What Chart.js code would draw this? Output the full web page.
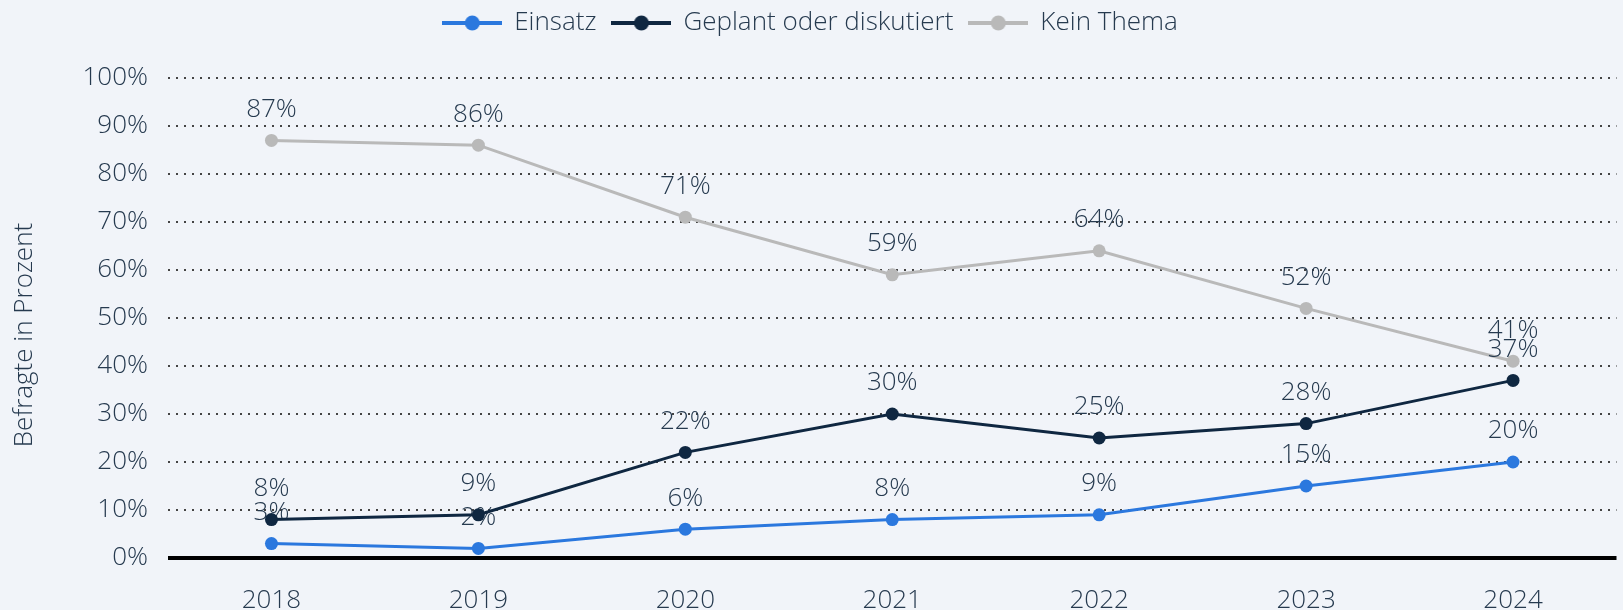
<!DOCTYPE html>
<html>
<head>
<meta charset="utf-8">
<script src="https://cdn.jsdelivr.net/npm/chart.js@4/dist/chart.umd.min.js"></script>
<style>
  html, body { margin: 0; padding: 0; background: #f1f4f9; }
  #wrap { width: 1623px; height: 610px; }
</style>
</head>
<body>
<div id="wrap"><canvas id="chart"></canvas></div>
<script>
// data
const years = ['2018', '2019', '2020', '2021', '2022', '2023', '2024'];
const einsatz = [3, 2, 6, 8, 9, 15, 20];
const geplant = [8, 9, 22, 30, 25, 28, 37];
const keinThema = [87, 86, 71, 59, 64, 52, 41];
const yTicks = [0, 10, 20, 30, 40, 50, 60, 70, 80, 90, 100];
const yTitle = 'Befragte in Prozent';

const textColor = '#263a4f';
const fontFamily = '"Open Sans", sans-serif';

// legend icon: short line with a dot in the middle
function legendIcon(color) {
    let c = document.createElement('canvas');
    c.width = 60; c.height = 16;
    let ctx = c.getContext('2d');
    ctx.strokeStyle = color;
    ctx.lineWidth = 4;
    ctx.beginPath(); ctx.moveTo(0, 8); ctx.lineTo(60, 8); ctx.stroke();
    ctx.fillStyle = color;
    ctx.beginPath(); ctx.arc(30, 8, 7.5, 0, Math.PI * 2); ctx.fill();
    return c;
}

// value labels above each point, drawn right after its dataset
const pointLabels = {
    id: 'pointLabels',
    afterDatasetDraw(chart, args) {
        let ctx = chart.ctx;
        ctx.save();
        ctx.font = '300 26px ' + fontFamily;
        ctx.fillStyle = textColor;
        ctx.textAlign = 'center';
        ctx.textBaseline = 'middle';
        args.meta.data.forEach(function(pt, i) {
            let v = chart.data.datasets[args.index].data[i];
            ctx.fillText(v + '%', pt.x, pt.y - 31);
        });
        ctx.restore();
    }
};

// thick black zero line
const zeroLine = {
    id: 'zeroLine',
    beforeDatasetsDraw(chart) {
        let y = chart.scales.y.getPixelForValue(0);
        let area = chart.chartArea;
        let ctx = chart.ctx;
        ctx.save();
        ctx.strokeStyle = '#000';
        ctx.lineWidth = 4;
        ctx.beginPath();
        ctx.moveTo(area.left, y);
        ctx.lineTo(area.right, y);
        ctx.stroke();
        ctx.restore();
    }
};

// y axis title, sitting a little lower than the plot middle
const axisTitle = {
    id: 'axisTitle',
    afterDraw(chart) {
        let area = chart.chartArea;
        let ctx = chart.ctx;
        ctx.save();
        ctx.translate(25, (area.top + area.bottom) / 2 + 17);
        ctx.rotate(-Math.PI / 2);
        ctx.font = '300 26px ' + fontFamily;
        ctx.fillStyle = textColor;
        ctx.textAlign = 'center';
        ctx.textBaseline = 'middle';
        ctx.fillText(yTitle, 0, 0);
        ctx.restore();
    }
};

// extra room under the legend
const legendRoom = {
    id: 'legendRoom',
    beforeInit(chart) {
        const fit = chart.legend.fit;
        chart.legend.fit = function() {
            fit.bind(chart.legend)();
            this.height += 32;
        };
    }
};

function series(label, data, color, order) {
    return {
        label: label,
        data: data,
        order: order,
        borderColor: color,
        backgroundColor: color,
        borderWidth: 3,
        pointStyle: 'circle',
        pointRadius: 6.5,
        pointHoverRadius: 6.5,
        pointBorderWidth: 0,
        tension: 0
    };
}

new Chart(document.getElementById('chart'), {
    type: 'line',
    data: {
        labels: years,
        datasets: [
            series('Einsatz', einsatz, '#2b78de', 1),
            series('Geplant oder diskutiert', geplant, '#0f2741', 0),
            series('Kein Thema', keinThema, '#b9b9b9', 2)
        ]
    },
    plugins: [legendRoom, pointLabels, zeroLine, axisTitle],
    options: {
        responsive: true,
        maintainAspectRatio: false,
        animation: false,
        layout: { padding: { top: -6, right: 2, left: 0, bottom: 0 } },
        plugins: {
            legend: {
                position: 'top',
                labels: {
                    usePointStyle: true,
                    pointStyleWidth: 58,
                    boxHeight: 16,
                    padding: 16,
                    color: textColor,
                    font: { family: fontFamily, size: 26, weight: '300' },
                    generateLabels(chart) {
                        return chart.data.datasets.map(function(ds, i) {
                            return {
                                text: ds.label,
                                pointStyle: legendIcon(ds.borderColor),
                                fillStyle: ds.borderColor,
                                strokeStyle: ds.borderColor,
                                lineWidth: 0,
                                fontColor: textColor,
                                datasetIndex: i
                            };
                        });
                    }
                }
            },
            tooltip: { enabled: false }
        },
        scales: {
            x: {
                offset: true,
                grid: { display: false },
                border: { display: false },
                ticks: {
                    color: textColor,
                    padding: 19,
                    font: { family: fontFamily, size: 26, weight: '300' }
                },
                afterFit(scale) { scale.height = 52; }
            },
            y: {
                min: 0,
                max: 100,
                afterBuildTicks(scale) {
                    scale.ticks = yTicks.map(v => ({ value: v }));
                },
                grid: {
                    drawTicks: false,
                    lineWidth: 2,
                    color: ctx => ctx.tick && ctx.tick.value === 0 ? 'rgba(0,0,0,0)' : '#444'
                },
                border: { display: false, dash: [2, 6] },
                ticks: {
                    color: textColor,
                    padding: 20,
                    font: { family: fontFamily, size: 26, weight: '300' },
                    callback: v => v + '%'
                },
                afterFit(scale) { scale.width = 168; }
            }
        }
    }
});
</script>
</body>
</html>
